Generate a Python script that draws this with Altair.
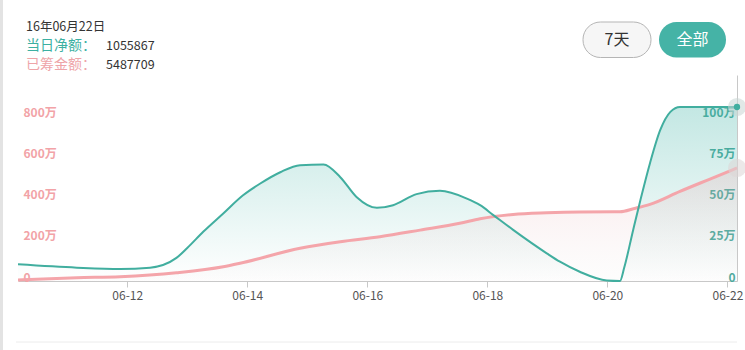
import altair as alt
import pandas as pd

# ---- data (values in 万) ----
teal_day = [10.18, 11.16, 11.88, 12.38, 12.82, 13.0, 13.27, 13.6, 13.93, 14.21, 14.55, 14.88, 15.27,
            15.55, 15.82, 16.16, 16.43, 16.82, 17.21, 17.66, 17.88, 18.1, 18.43, 18.99, 19.21,
            19.54, 19.99, 20.21, 20.28, 20.43, 20.55, 20.71, 20.88, 21.05, 21.21, 22.16]
teal_val = [10.1, 8.1, 7.3, 8.1, 14, 20, 30, 41, 52, 59, 66, 70.3, 70.7,
            63, 51, 44.4, 46, 52.7, 54.7, 50, 46, 40, 31, 16.8, 11.7,
            5.6, 0.3, 0, 8, 31, 49, 71.5, 91.5, 102.6, 105.6, 105.5867]

pink_day = [10.18, 11.16, 11.88, 12.82, 13.6, 13.88, 14.88, 15.55, 16.21, 16.88, 17.54, 17.88,
            18.43, 18.99, 19.54, 20.21, 20.45, 20.71, 21.21, 21.71, 22.16]
pink_val = [5, 16, 21, 40, 69, 86, 159, 191, 215, 247, 280, 302,
            323, 331, 335, 336, 352, 372, 435, 495, 548.7709]

x_ticks = [12, 14, 16, 18, 20, 22]
left_ticks = [0, 200, 400, 600, 800]
right_ticks = [0, 25, 50, 75, 100]

header_date = "16年06月22日"
label_net = "当日净额："
value_net = "1055867"
label_total = "已筹金额："
value_total = "5487709"
btn_labels = ["7天", "全部"]

TEAL = "#41ae9f"
PINK = "#f4a5aa"
FONT = "Noto Sans CJK SC"

teal_df = pd.DataFrame({"day": teal_day, "v": teal_val})
pink_df = pd.DataFrame({"day": pink_day, "v": pink_val})
one = pd.DataFrame({"k": [0]})

xdom = [10.18, 22.16]
x_enc = alt.X("day:Q", scale=alt.Scale(domain=xdom, nice=False, zero=False),
              axis=alt.Axis(values=x_ticks, labelExpr="'06-' + datum.value", title=None,
                            grid=False, domainColor="#c8c8c8", tickColor="#c8c8c8", tickSize=6,
                            labelColor="#555555", labelFont=FONT, labelFontSize=12, labelPadding=3,
                            labelFlush=False))

tscale = alt.Scale(domain=[0, 125], nice=False, zero=True)
pscale = alt.Scale(domain=[0, 1000], nice=False, zero=True)

teal_area = alt.Chart(teal_df).mark_area(
    interpolate="monotone",
    color=alt.Gradient(gradient="linear", x1=0, y1=0, x2=0, y2=1,
                       stops=[alt.GradientStop(color="rgba(69,181,168,0.32)", offset=0),
                              alt.GradientStop(color="rgba(69,181,168,0.0)", offset=1)])
).encode(x=x_enc, y=alt.Y("v:Q", scale=tscale, axis=None))

pink_area = alt.Chart(pink_df).mark_area(
    interpolate="monotone",
    color=alt.Gradient(gradient="linear", x1=0, y1=0, x2=0, y2=1,
                       stops=[alt.GradientStop(color="rgba(240,150,158,0.22)", offset=0),
                              alt.GradientStop(color="rgba(220,210,210,0.05)", offset=1)])
).encode(x=x_enc, y=alt.Y("v:Q", scale=pscale, axis=None))

pink_line = alt.Chart(pink_df).mark_line(interpolate="monotone", color=PINK, strokeWidth=3).encode(
    x=x_enc,
    y=alt.Y("v:Q", scale=pscale,
            axis=alt.Axis(orient="left", values=left_ticks, title=None, grid=False, domain=False,
                          ticks=False, labelAlign="left", labelBaseline="alphabetic", labelPadding=-5,
                          labelColor="#f2a3a7", labelFont=FONT, labelFontSize=12, labelFontWeight="bold",
                          labelExpr="datum.value == 0 ? '0' : datum.value + '万'")))

teal_line = alt.Chart(teal_df).mark_line(interpolate="monotone", color=TEAL, strokeWidth=2).encode(
    x=x_enc,
    y=alt.Y("v:Q", scale=tscale,
            axis=alt.Axis(orient="right", values=right_ticks, title=None, grid=False, domain=True,
                          domainColor="#c8c8c8", ticks=False, labelAlign="right",
                          labelBaseline="alphabetic", labelPadding=-2,
                          labelColor="#4aa99c", labelFont=FONT, labelFontSize=12, labelFontWeight="bold",
                          labelExpr="datum.value == 0 ? '0' : datum.value + '万'")))

teal_end_df = teal_df.tail(1)
pink_end_df = pink_df.tail(1)
teal_halo = alt.Chart(teal_end_df).mark_circle(size=330, color="#c9d6d3", opacity=0.55).encode(
    x=x_enc, y=alt.Y("v:Q", scale=tscale, axis=None))
teal_dot = alt.Chart(teal_end_df).mark_circle(size=40, color=TEAL, opacity=1).encode(
    x=x_enc, y=alt.Y("v:Q", scale=tscale, axis=None))
pink_halo = alt.Chart(pink_end_df).mark_circle(size=330, color="#dcd6d6", opacity=0.55).encode(
    x=x_enc, y=alt.Y("v:Q", scale=pscale, axis=None))

# ---- header / decorations (pixel positions relative to plot origin) ----
def txt(text, x, y, size, color, weight="normal", align="left"):
    return alt.Chart(one).mark_text(align=align, baseline="middle", font=FONT, fontSize=size,
                                    color=color, fontWeight=weight).encode(
        x=alt.value(x), y=alt.value(y), text=alt.value(text))

h1 = txt(header_date, 8, -48, 12.5, "#333333")
h2 = txt(label_net, 8, -29, 14, "#3cb0a2")
h3 = txt(value_net, 88, -29, 12.5, "#333333")
h4 = txt(label_total, 8, -10, 14, "#eea4a8")
h5 = txt(value_total, 88, -10, 12.5, "#333333")

btn1 = alt.Chart(one).mark_rect(cornerRadius=17.5, fill="#f6f6f6", stroke="#b5b5b5", strokeWidth=1).encode(
    x=alt.value(565), x2=alt.value(633), y=alt.value(-53), y2=alt.value(-17.5))
btn2 = alt.Chart(one).mark_rect(cornerRadius=17.5, fill="#45b3a6").encode(
    x=alt.value(641), x2=alt.value(708), y=alt.value(-53), y2=alt.value(-17.5))
bt1 = txt(btn_labels[0], 599, -35, 16, "#333333", align="center")
bt2 = txt(btn_labels[1], 674.5, -35, 16, "#ffffff", align="center")

left_strip = alt.Chart(one).mark_rect(color="#e3e3e3").encode(
    x=alt.value(-18), x2=alt.value(-15), y=alt.value(-75), y2=alt.value(275))
bottom_line = alt.Chart(one).mark_rule(color="#ececec", strokeWidth=1).encode(
    x=alt.value(-2), x2=alt.value(719), y=alt.value(267))

chart = alt.layer(
    teal_area, pink_area, pink_line, teal_line, pink_halo, teal_halo, teal_dot,
    h1, h2, h3, h4, h5, btn1, btn2, bt1, bt2, left_strip, bottom_line
).resolve_scale(y="independent").properties(
    width=719, height=206,
    autosize=alt.AutoSizeParams(type="none"),
    padding={"left": 18, "top": 75, "right": 8, "bottom": 69},
    background="white"
).configure_view(stroke=None)

chart.save("out.html", embed_options={"renderer": "svg", "actions": False})
